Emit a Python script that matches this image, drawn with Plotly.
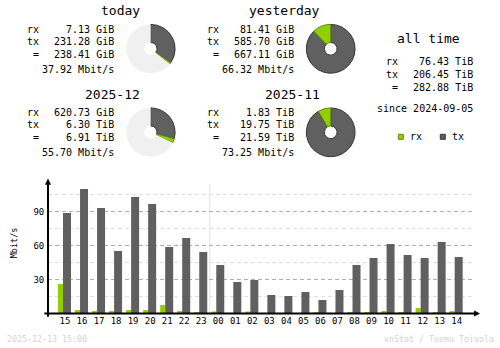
import plotly.graph_objects as go

W, H = 500, 348


def px(x):
    return x / W


def py(y):
    return 1 - y / H


# ---------------- data ----------------
periods = ["today", "yesterday", "2025-12", "2025-11"]
rx_vals = [7.13, 81.41, 620.73, 1.83]
rx_units = ["GiB", "GiB", "GiB", "TiB"]
tx_vals = [231.28, 585.70, 6.30, 19.75]
tx_units = ["GiB", "GiB", "TiB", "TiB"]
total_vals = [238.41, 667.11, 6.91, 21.59]
total_units = ["GiB", "GiB", "TiB", "TiB"]
rate_vals = [37.92, 66.32, 55.70, 73.25]

alltime_labels = ["rx", "tx", "="]
alltime_vals = [76.43, 206.45, 282.88]
alltime_unit = "TiB"
since_date = "2024-09-05"

hours = ["15", "16", "17", "18", "19", "20", "21", "22", "23", "00", "01", "02",
         "03", "04", "05", "06", "07", "08", "09", "10", "11", "12", "13", "14"]
rx_rate = [26.0, 3.0, 2.1, 2.1, 3.0, 3.0, 7.4, 2.1, 1.2, 1.6, 0.2, 1.6,
           0.2, 0.2, 0.2, 1.2, 0.2, 1.0, 1.0, 2.0, 1.0, 4.7, 1.0, 2.0]
tx_rate = [88.9, 110.1, 93.3, 55.2, 103.0, 96.8, 58.7, 66.7, 54.3, 42.8, 27.8, 29.5,
           16.2, 15.4, 18.9, 11.8, 20.7, 42.8, 49.0, 61.4, 51.7, 49.0, 63.2, 49.9]
y_major = [30, 60, 90]
y_minor = [15, 45, 75, 105]
day_break = 8.5  # boundary between hour "23" and "00"
footer_date = "2025-12-13 15:00"
footer_credit = "vnStat / Teemu Toivola"

# ---------------- styles ----------------
RX = "#92cf00"
TX = "#606060"
RX_EDGE = "#5f8a00"
TX_EDGE = "#353535"
EMPTY = "#f0f0f0"
MONO = "DejaVu Sans Mono"


def to_tib(v, u):
    return v / 1024 if u == "GiB" else v


fig = go.Figure()

# ---------------- pies ----------------
pairs = [(0, 1), (2, 3)]
col_dx = [0, 180]
row_dy = [0, 83.5]
pie_cx, pie_cy, pie_r = 150.7, 48.8, 24.4
for a, b in pairs:
    ref = max(to_tib(total_vals[a], total_units[a]), to_tib(total_vals[b], total_units[b]))
    for i in (a, b):
        col, row = i % 2, i // 2
        cx = pie_cx + col_dx[col]
        cy = pie_cy + row_dy[row]
        txv = to_tib(tx_vals[i], tx_units[i])
        rxv = to_tib(rx_vals[i], rx_units[i])
        rest = max(ref - txv - rxv, 0)
        fig.add_trace(go.Pie(
            values=[txv, rxv, rest],
            labels=["tx", "rx", "rest"],
            sort=False, direction="clockwise", rotation=0,
            hole=0.26,
            marker=dict(colors=[TX, RX, EMPTY],
                        line=dict(color=[TX_EDGE, RX_EDGE, EMPTY], width=[1, 1, 0])),
            textinfo="none", hoverinfo="skip", showlegend=False,
            domain=dict(x=[px(cx - pie_r), px(cx + pie_r)],
                        y=[py(cy + pie_r), py(cy - pie_r)]),
        ))

# ---------------- bars ----------------
slot = 17.03
xs = list(range(len(hours)))
fig.add_trace(go.Bar(x=xs, y=rx_rate, width=5 / slot, offset=-7 / slot,
                     marker=dict(color=RX, line=dict(width=0)), hoverinfo="skip"))
fig.add_trace(go.Bar(x=xs, y=tx_rate, width=8 / slot, offset=-2 / slot,
                     marker=dict(color=TX, line=dict(width=0)), hoverinfo="skip"))

x0_pix, x_left, x_right = 65.0, 48.3, 472.7
y0_pix, y_top, ppm = 313.3, 178.0, 1.129

annotations = []


def ann(text, x, y, xanchor="left", size=10, color="black", yanchor="middle", **kw):
    annotations.append(dict(text=text, x=px(x), y=py(y), xref="paper", yref="paper",
                            xanchor=xanchor, yanchor=yanchor, showarrow=False,
                            font=dict(family=MONO, size=size, color=color), **kw))


# text blocks
for i, name in enumerate(periods):
    col, row = i % 2, i // 2
    dx, dy = col_dx[col], row_dy[row]
    ann(name, 142 + dx, 10.7 + dy, xanchor="right", size=13)
    ann("rx", 24.5 + dx, 29 + dy)
    ann("tx", 24.5 + dx, 41 + dy)
    ann("=", 30.5 + dx, 54.3 + dy)
    ann(f"{rx_vals[i]:.2f} {rx_units[i]}", 115.5 + dx, 29 + dy, xanchor="right")
    ann(f"{tx_vals[i]:.2f} {tx_units[i]}", 115.5 + dx, 41 + dy, xanchor="right")
    ann(f"{total_vals[i]:.2f} {total_units[i]}", 115.5 + dx, 54.3 + dy, xanchor="right")
    ann(f"{rate_vals[i]:.2f} Mbit/s", 115.5 + dx, 69 + dy, xanchor="right")

# all time
ann("all time", 428.8, 38.5, xanchor="center", size=13)
for lab, val, yy, xl in zip(alltime_labels, alltime_vals, [61.7, 74.2, 87.8], [384, 384, 390]):
    ann(lab, xl, yy)
    ann(f"{val:.2f} {alltime_unit}", 474.5, yy, xanchor="right")
ann(f"since {since_date}", 474.5, 108.3, xanchor="right")

# legend
shapes = []
for lx, lab, c, e in [(398.3, "rx", RX, RX_EDGE), (440.3, "tx", TX, TX_EDGE)]:
    shapes.append(dict(type="rect", xref="paper", yref="paper",
                       x0=px(lx), x1=px(lx + 5), y0=py(139.3), y1=py(134.3),
                       fillcolor=c, line=dict(color=e, width=1)))
    ann(lab, lx + 9.5, 136.5)

# axis labels
ann("Mbit/s", 14.3, 243, xanchor="center", size=8.5, textangle=-90)
ann(footer_date, 4.5, 338.7, size=8.3, color="#d4d4d4")
ann(footer_credit, 495.5, 338.7, xanchor="right", size=8.3, color="#d4d4d4")

# day separator
shapes.append(dict(type="line", xref="x", yref="y", x0=day_break, x1=day_break,
                   y0=0, y1=(y0_pix - 184) / ppm, line=dict(color="#e2e2e2", width=1),
                   layer="below"))
# axis lines
shapes.append(dict(type="line", xref="paper", yref="paper",
                   x0=px(48), x1=px(48), y0=py(316.8), y1=py(183.5),
                   line=dict(color="black", width=2)))
shapes.append(dict(type="line", xref="paper", yref="paper",
                   x0=px(44.3), x1=px(475), y0=py(313.5), y1=py(313.5),
                   line=dict(color="black", width=2)))
# arrows
shapes.append(dict(type="path", xref="paper", yref="paper",
                   path=f"M {px(45.3)} {py(184.5)} L {px(48)} {py(179)} L {px(50.7)} {py(184.5)} Z",
                   fillcolor="black", line=dict(color="black", width=0.5)))
shapes.append(dict(type="path", xref="paper", yref="paper",
                   path=f"M {px(474.3)} {py(310.8)} L {px(479.5)} {py(313.5)} L {px(474.3)} {py(316.2)} Z",
                   fillcolor="black", line=dict(color="black", width=0.5)))

fig.update_layout(
    width=W, height=H,
    margin=dict(l=0, r=0, t=0, b=0),
    paper_bgcolor="white", plot_bgcolor="white",
    barmode="overlay", showlegend=False,
    font=dict(family=MONO, color="black"),
    xaxis=dict(domain=[px(x_left), px(x_right)],
               range=[(x_left - x0_pix) / slot, (x_right - x0_pix) / slot],
               tickmode="array", tickvals=xs, ticktext=hours,
               showgrid=False, zeroline=False, showline=False, ticks="",
               ticklabelstandoff=1,
               tickfont=dict(family=MONO, size=9, color="black"), fixedrange=True),
    yaxis=dict(domain=[py(y0_pix), py(y_top)],
               range=[0, (y0_pix - y_top) / ppm],
               tickmode="array", tickvals=y_major,
               showgrid=True, gridcolor="#b0b0b0", griddash="4px,3px", gridwidth=1,
               minor=dict(tickmode="array", tickvals=y_minor, showgrid=True,
                          gridcolor="#e0e0e0", griddash="4px,3px", gridwidth=1, ticks=""),
               zeroline=False, showline=False, ticks="",
               ticklabelstandoff=3,
               tickfont=dict(family=MONO, size=9, color="black"), fixedrange=True),
    annotations=annotations,
    shapes=shapes,
)

fig.write_html("out.html")
